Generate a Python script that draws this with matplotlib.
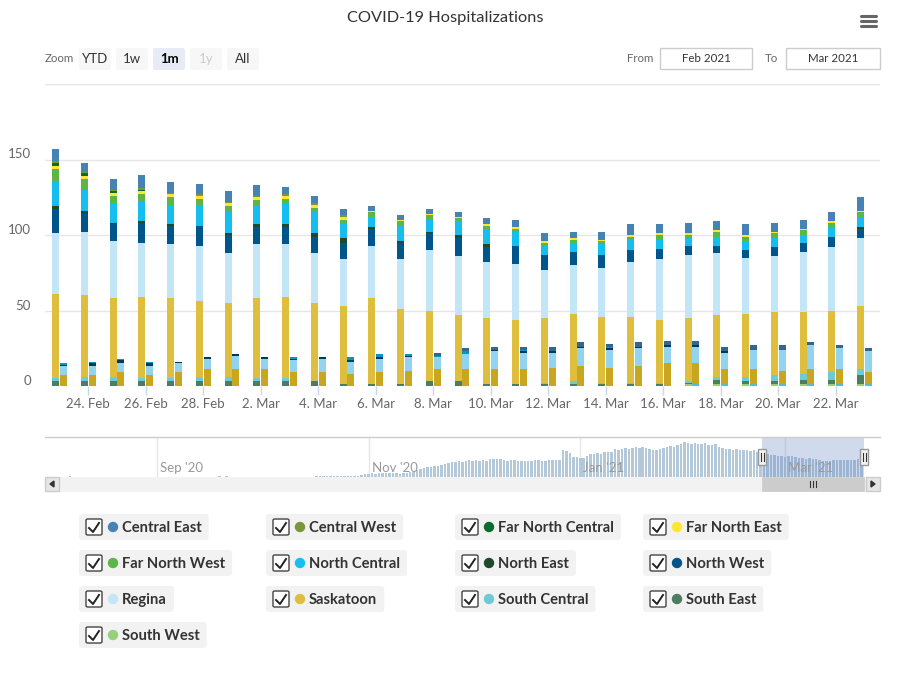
import matplotlib
matplotlib.use("Agg")
import matplotlib.pyplot as plt
import matplotlib.dates as mdates
import matplotlib.transforms as mtransforms
from matplotlib.patches import Rectangle, FancyBboxPatch, Ellipse
from matplotlib.lines import Line2D
import numpy as np
import pandas as pd

plt.rcParams['font.family'] = ['Lato', 'DejaVu Sans']

W, H = 913, 674

# ---- data (Feb 23 - Mar 23, 2021) ----
start_day = "2021-02-23"
n_days = 29
tick_labels = ["24. Feb", "26. Feb", "28. Feb", "2. Mar", "4. Mar", "6. Mar", "8. Mar",
               "10. Mar", "12. Mar", "14. Mar", "16. Mar", "18. Mar", "20. Mar", "22. Mar"]

regions = ["Central East", "Central West", "Far North Central", "Far North East",
           "Far North West", "North Central", "North East", "North West",
           "Regina", "Saskatoon", "South Central", "South East", "South West"]
colors = ["#4682b4", "#7a963a", "#0a6b2f", "#ffe632", "#5ab646", "#14bff0", "#1e4a2a",
          "#00568a", "#c2e6f7", "#dfbd3d", "#6ecbd3", "#4b7d5e", "#98cf7a"]

# total hospitalized by region
central_east = [8, 6, 7, 9, 7, 7, 7, 7, 5, 5, 4, 3, 3, 3, 3, 4, 5, 5, 4, 5, 7, 6, 7, 6, 7, 6, 6, 6, 9]
central_west = [1, 1, 1, 1, 1, 1, 1, 1, 1, 1, 1, 0, 0, 0, 0, 0, 0, 0, 0, 0, 0, 0, 0, 0, 0, 0, 0, 0, 0]
far_north_central = [2, 2, 1, 1, 0, 0, 0, 0, 0, 0, 0, 0, 0, 0, 0, 0, 0, 0, 0, 0, 0, 0, 0, 0, 0, 0, 0, 0, 0]
far_north_east = [2, 2, 2, 2, 2, 2, 2, 2, 2, 2, 2, 1, 1, 1, 1, 1, 1, 1, 1, 1, 1, 1, 1, 1, 1, 1, 1, 1, 1]
far_north_west = [8, 7, 5, 5, 5, 4, 4, 4, 3, 3, 3, 3, 3, 3, 2, 2, 2, 2, 2, 2, 2, 3, 2, 3, 3, 3, 3, 3, 4]
north_central = [17, 14, 13, 13, 13, 14, 14, 12, 14, 14, 9, 7, 10, 8, 9, 10, 9, 6, 6, 7, 7, 6, 5, 6, 6, 6, 5, 6, 6]
north_east = [2, 2, 1, 1, 1, 0, 1, 2, 2, 2, 3, 1, 1, 1, 2, 2, 0, 0, 0, 0, 0, 0, 0, 0, 0, 0, 0, 0, 1]
north_west = [16, 12, 11, 13, 12, 13, 12, 11, 11, 11, 11, 11, 11, 11, 12, 10, 12, 10, 9, 9, 8, 7, 6, 5, 5, 6, 6, 7, 6]
regina = [40, 42, 38, 36, 36, 37, 33, 36, 35, 33, 31, 35, 33, 40, 39, 37, 37, 32, 32, 32, 36, 40, 42, 41, 37, 37, 40, 42, 45]
saskatoon = [56, 54, 52, 54, 53, 50, 49, 53, 54, 52, 52, 57, 50, 47, 44, 44, 43, 43, 45, 44, 44, 42, 42, 41, 42, 42, 41, 41, 42]
south_central = [2, 3, 3, 2, 2, 3, 3, 2, 2, 0, 0, 0, 0, 0, 0, 0, 0, 1, 2, 1, 1, 1, 1, 2, 3, 4, 4, 5, 4]
south_east = [3, 3, 3, 3, 3, 3, 3, 3, 3, 3, 1, 1, 1, 3, 3, 1, 1, 1, 1, 1, 1, 1, 1, 3, 2, 2, 3, 3, 6]
south_west = [0, 0, 0, 0, 0, 0, 0, 0, 0, 0, 0, 0, 0, 0, 0, 0, 0, 0, 0, 0, 0, 0, 1, 1, 1, 1, 1, 1, 1]

hosp = [central_east, central_west, far_north_central, far_north_east, far_north_west,
        north_central, north_east, north_west, regina, saskatoon, south_central,
        south_east, south_west]

# ICU by region (second, darker column of each day)
icu_central_east = [0, 0, 0, 0, 0, 0, 0, 0, 0, 0, 0, 0, 0, 2, 2, 2, 2, 3, 3, 2, 3, 3, 3, 3, 3, 3, 2, 2, 2]
icu_north_central = [1, 1, 1, 1, 0, 0, 0, 0, 1, 0, 2, 2, 1, 1, 2, 0, 1, 0, 0, 1, 0, 0, 0, 0, 0, 0, 0, 0, 0]
icu_north_west = [1, 2, 2, 2, 1, 1, 1, 1, 1, 1, 1, 1, 1, 0, 0, 1, 1, 1, 1, 1, 1, 1, 1, 1, 0, 0, 0, 0, 0]
icu_regina = [6, 6, 6, 6, 6, 7, 9, 7, 8, 9, 8, 9, 9, 8, 10, 12, 11, 10, 12, 12, 12, 11, 11, 11, 13, 14, 16, 14, 14]
icu_saskatoon = [7, 7, 9, 7, 9, 11, 11, 11, 9, 9, 8, 9, 10, 11, 11, 11, 11, 12, 13, 12, 13, 15, 14, 10, 10, 9, 10, 10, 8]
icu_south_central = [0, 0, 0, 0, 0, 0, 0, 0, 0, 0, 0, 0, 0, 0, 0, 0, 0, 0, 0, 0, 0, 0, 1, 1, 1, 1, 1, 1, 1]

icu = [icu_central_east, icu_north_central, icu_north_west, icu_regina, icu_saskatoon, icu_south_central]
icu_colors = ["#33678f", "#0b93c4", "#003a5c", "#92d4f0", "#c9a620", "#5bbccb"]

# navigator (whole period, total hospitalized)
nav_early_dates = ["2020-08-07", "2020-09-19", "2020-09-21"]
nav_early = [5, 5, 5]
nav_start = "2020-10-17"
nav_values = [8, 9, 9, 8, 9, 9, 9, 8, 8, 9, 8, 9, 8, 12, 16,
              22, 24, 22, 26, 24, 25, 23, 26, 27, 22, 26, 27, 30, 29,
              47, 50, 56, 60, 64, 68, 72, 78, 85, 90, 94, 96, 98, 95, 100, 104,
              98, 104, 100, 106, 102, 112, 115, 116, 114,
              104, 100, 104, 106, 102, 101, 101, 100, 103, 104, 106, 103, 100, 104, 105, 104, 105,
              172, 166, 150, 128, 123,
              118, 120,
              135, 142, 145, 150, 148, 155, 160, 158,
              175, 172, 178, 180, 176, 185, 188, 184, 186, 182,
              175, 170, 172, 176,
              185, 190, 195, 188, 200, 210, 220,
              215, 208, 216,
              210, 205, 212, 202, 200, 206,
              190, 180, 176, 178, 172, 174, 170, 168, 172, 166, 170, 160, 164]


def fx(x):
    return x / W


def fy(y):
    return 1 - y / H


fig = plt.figure(figsize=(W / 100, H / 100), dpi=100)
fig.patch.set_facecolor("white")

# ---- main chart ----
ax = fig.add_axes([fx(45), fy(386), (880 - 45) / W, (386 - 84) / H])
idx = np.arange(n_days)
wbar = 0.245

bottom = np.zeros(n_days)
for vals, col in zip(hosp[::-1], colors[::-1]):
    ax.bar(idx - 0.135, vals, width=wbar, bottom=bottom, color=col, linewidth=0, zorder=3)
    bottom += np.array(vals)

bottom = np.zeros(n_days)
for vals, col in zip(icu[::-1], icu_colors[::-1]):
    ax.bar(idx + 0.135, vals, width=wbar, bottom=bottom, color=col, linewidth=0, zorder=3)
    bottom += np.array(vals)

ax.set_xlim(-0.504, 28.54)
ax.set_ylim(0, 200)
for s in ax.spines.values():
    s.set_visible(False)
for g in [0, 50, 100, 150, 200]:
    ax.axhline(g, color="#e6e6e6", lw=1, zorder=1)

ax.set_yticks([0, 50, 100, 150])
ax.set_yticklabels(["0", "50", "100", "150"])
ax.tick_params(axis="y", length=0, pad=10, labelsize=9.5, labelcolor="#666666")
offset = mtransforms.ScaledTranslation(0, 6 / 100, fig.dpi_scale_trans)
for lab in ax.get_yticklabels():
    lab.set_transform(lab.get_transform() + offset)

ax.set_xticks(idx[1::2])
ax.set_xticklabels(tick_labels)
ax.tick_params(axis="x", length=6.5, width=1, color="#ccd6eb", pad=2.5,
               labelsize=9.5, labelcolor="#666666")

# ---- title, menu ----
fig.text(fx(445), fy(18), "COVID-19 Hospitalizations", ha="center", va="center",
         fontsize=11.8, color="#333333")
for yy in [16, 21, 26]:
    fig.add_artist(Line2D([fx(861), fx(876)], [fy(yy), fy(yy)], color="#666666", lw=2.2,
                          solid_capstyle="round"))

# ---- range selector ----
fig.text(fx(45), fy(59), "Zoom", ha="left", va="center", fontsize=8.3, color="#666666")
buttons = [("YTD", 79, "#f7f7f7", "#333333", "normal"),
           ("1w", 116, "#f7f7f7", "#333333", "normal"),
           ("1m", 153, "#e6ebf5", "#000000", "bold"),
           ("1y", 190, "#f7f7f7", "#cccccc", "normal"),
           ("All", 227, "#f7f7f7", "#333333", "normal")]
for txt, bx, bg, tc, fw in buttons:
    fig.add_artist(FancyBboxPatch((fx(bx), fy(70)), 32 / W, 22 / H,
                                  boxstyle="round,pad=0,rounding_size=0.003",
                                  facecolor=bg, edgecolor="none"))
    fig.text(fx(bx + 16), fy(59), txt, ha="center", va="center", fontsize=9.5,
             color=tc, fontweight=fw)

fig.text(fx(653), fy(58), "From", ha="right", va="center", fontsize=8.3, color="#666666")
fig.text(fx(778), fy(58), "To", ha="right", va="center", fontsize=8.3, color="#666666")
for bx, bw, txt in [(660, 92, "Feb 2021"), (786, 94, "Mar 2021")]:
    fig.add_artist(Rectangle((fx(bx), fy(69)), bw / W, 21 / H, facecolor="white",
                             edgecolor="#cccccc", lw=1))
    fig.text(fx(bx + bw / 2), fy(58.5), txt, ha="center", va="center", fontsize=8.3,
             color="#333333")

# ---- navigator ----
nav = fig.add_axes([fx(45), fy(477), (880 - 45) / W, 40 / H])
nav_dates = pd.date_range(nav_start, periods=len(nav_values), freq="D")
main_dates = pd.date_range(start_day, periods=n_days, freq="D")
main_total = np.sum(np.array(hosp), axis=0)
nav.bar(pd.to_datetime(nav_early_dates), nav_early, width=0.72, color="#b3c9da", linewidth=0)
nav.bar(nav_dates, nav_values, width=0.72, color="#b3c9da", linewidth=0)
nav.bar(main_dates, main_total, width=0.72, color="#b3c9da", linewidth=0)
mar1 = mdates.date2num(pd.Timestamp("2021-03-01"))
nav.set_xlim(mar1 - (785 - 45) / 3.47, mar1 + (880 - 785) / 3.47)
nav.set_ylim(0, 252)
nav.set_yticks([])
nav.set_xticks([])
for s in nav.spines.values():
    s.set_visible(False)
for d, lab in [("2020-09-01", "Sep '20"), ("2020-11-01", "Nov '20"),
               ("2021-01-01", "Jan '21"), ("2021-03-01", "Mar '21")]:
    t = mdates.date2num(pd.Timestamp(d))
    nav.axvline(t, color="#e6e6e6", lw=1, zorder=0)
    nav.annotate(lab, (t, 0), xycoords=("data", "axes fraction"), xytext=(3, 9),
                 textcoords="offset pixels", ha="left", va="center", fontsize=9.5,
                 color="#999999", zorder=5)

sel0 = mdates.date2num(pd.Timestamp("2021-02-23")) - 0.5
sel1 = mdates.date2num(pd.Timestamp("2021-03-23")) + 0.9
nav.axvspan(sel0, sel1, color=(102 / 255, 133 / 255, 194 / 255, 0.3), lw=0, zorder=4)
fig.add_artist(Line2D([fx(45), fx(880)], [fy(437), fy(437)], color="#cccccc", lw=1))

# handles
for hx in [762, 864]:
    fig.add_artist(Rectangle((fx(hx - 4), fy(465)), 8 / W, 16 / H, facecolor="#f2f2f2",
                             edgecolor="#999999", lw=1, zorder=10))
    for lx in [hx - 1.5, hx + 1.5]:
        fig.add_artist(Line2D([fx(lx), fx(lx)], [fy(453), fy(461)], color="#333333",
                              lw=0.8, zorder=11))

# ---- scrollbar ----
fig.add_artist(Rectangle((fx(45), fy(491)), 835 / W, 14 / H, facecolor="#f2f2f2",
                         edgecolor="#f2f2f2", lw=0.5))
fig.add_artist(Rectangle((fx(762), fy(491)), 102 / W, 14 / H, facecolor="#cccccc",
                         edgecolor="#cccccc", lw=0.5))
for lx in [810, 813, 816]:
    fig.add_artist(Line2D([fx(lx), fx(lx)], [fy(481), fy(487)], color="#333333", lw=0.8))
for bx in [45, 866]:
    fig.add_artist(Rectangle((fx(bx), fy(491)), 14 / W, 14 / H, facecolor="#e6e6e6",
                             edgecolor="#cccccc", lw=1))
fig.add_artist(plt.Polygon([[fx(50), fy(484)], [fx(54), fy(481)], [fx(54), fy(487)]],
                           closed=True, color="#333333"))
fig.add_artist(plt.Polygon([[fx(875), fy(484)], [fx(871), fy(481)], [fx(871), fy(487)]],
                           closed=True, color="#333333"))

# ---- legend ----
col_x = [79, 266, 455, 643]
row_y = [527, 563, 599, 635]
fig.canvas.draw()
renderer = fig.canvas.get_renderer()
for i, (name, col) in enumerate(zip(regions, colors)):
    bx = col_x[i % 4]
    by = row_y[i // 4]
    t = fig.text(fx(bx + 43), fy(by + 1), name, ha="left", va="center", fontsize=10.6,
                 fontweight="bold", color="#333333", zorder=12)
    ext = t.get_window_extent(renderer)
    right = ext.x1 + 7
    fig.add_artist(FancyBboxPatch((fx(bx), fy(by + 13)), (right - bx) / W, 26 / H,
                                  boxstyle="round,pad=0,rounding_size=0.004",
                                  facecolor="#f2f2f2", edgecolor="none", zorder=10))
    fig.add_artist(FancyBboxPatch((fx(bx + 7), fy(by + 8)), 16 / W, 16 / H,
                                  boxstyle="round,pad=0,rounding_size=0.002",
                                  facecolor="white", edgecolor="#444444", lw=1, zorder=11))
    fig.add_artist(Line2D([fx(bx + 10), fx(bx + 14), fx(bx + 20)],
                          [fy(by + 1), fy(by + 5), fy(by - 4)], color="#222222", lw=1.4,
                          zorder=12))
    fig.add_artist(Ellipse((fx(bx + 34), fy(by)), 9 / W, 9 / H, color=col, zorder=12,
                           transform=fig.transFigure))

fig.savefig("out.png", dpi=100)
